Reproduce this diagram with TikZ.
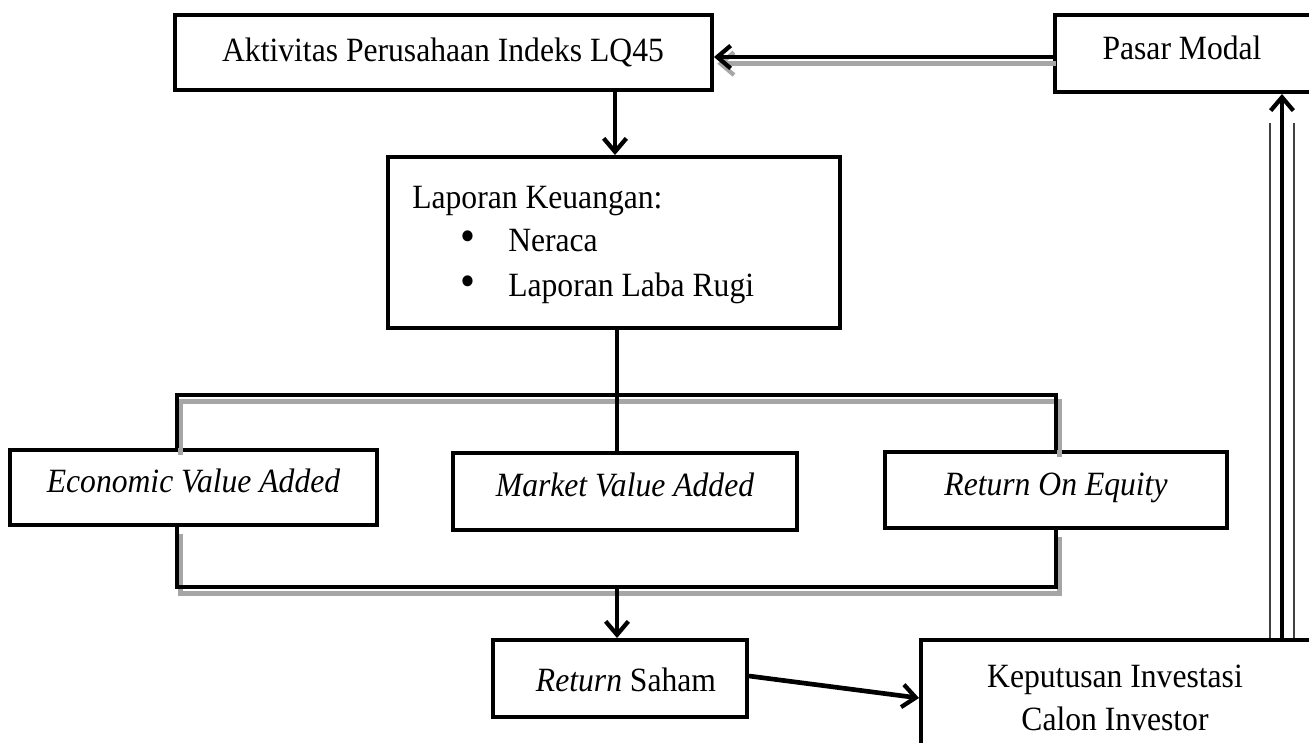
\documentclass[tikz,border=0pt]{standalone}
\usepackage{fontspec}
\setmainfont{Liberation Serif}[FakeStretch=0.93]
\usetikzlibrary{arrows.meta,fit}
\newcommand{\blt}{\raisebox{-0.5pt}{\scalebox{1.35}{\textbullet}}}
\begin{document}
\begin{tikzpicture}[x=0.75pt,y=-0.75pt,
  box/.style={draw=black, line width=3pt, inner sep=0pt},
  txt/.style={font=\fontsize{25.5pt}{30pt}\selectfont, inner sep=0pt},
  conn/.style={line width=3.5pt},
  shd/.style={preaction={draw=black!35, line width=3.5pt, transform canvas={xshift=2.5pt,yshift=-5pt}}},
  arr/.style={conn, -{Straight Barb[length=10pt,width=17pt,line width=3.2pt]}},
  dbl/.style={draw=black!75, line width=1.1pt, double=white, double distance=17pt}
]
\useasboundingbox (0,0) rectangle (1309,742);
\clip (0,0) rectangle (1309,742);

% boxes
\node[box, fit={(175,15) (712,90)}] (a) {};
\node[txt, anchor=base] (at) at (443,62) {Aktivitas Perusahaan Indeks LQ45};

\node[box, fit={(1055,15) (1340,92)}] (pm) {};
\node[txt, anchor=base] (pmt) at (1182,60) {Pasar Modal};

\node[box, fit={(388,157) (840,328)}] (lk) {};
\node[txt, anchor=base west] (lk1) at (412,208) {Laporan Keuangan:};
\node[txt, anchor=base west] (lk2) at (412,251) {\makebox[72pt][l]{\hspace*{36pt}\blt}Neraca};
\node[txt, anchor=base west] (lk3) at (412,296) {\makebox[72pt][l]{\hspace*{36pt}\blt}Laporan Laba Rugi};

\node[box, fit={(10,450) (377,525)}] (eva) {};
\node[txt, anchor=base] (evat) at (193.5,492) {\itshape Economic Value Added};

\node[box, fit={(453,453) (797,530)}] (mva) {};
\node[txt, anchor=base] (mvat) at (625,496) {\itshape Market Value Added};

\node[box, fit={(885,452) (1227,528)}] (roe) {};
\node[txt, anchor=base] (roet) at (1056,495) {\itshape Return On Equity};

\node[box, fit={(493,640) (747,717)}] (rs) {};
\node[txt, anchor=base] (rst) at (626,691) {\textit{Return} Saham};

\node[box, fit={(921,640) (1340,756)}] (kep) {};
\node[txt, anchor=base] (kt1) at (1115,687) {Keputusan Investasi};
\node[txt, anchor=base] (kt2) at (1115,730) {Calon Investor};

% coordinates of the distribution bars
\coordinate (t1) at (177,395);
\coordinate (t2) at (617,395);
\coordinate (t3) at (1056,395);
\coordinate (b1) at (177,587);
\coordinate (b2) at (617,587);
\coordinate (b3) at (1056,587);
\coordinate (dtop) at (1282,123);

% connectors
\draw[arr, shd] (pm.west |- 0,57) -- (a.east |- 0,57);
\draw[arr] (a.south -| 615,0) -- (lk.north -| 615,0);
\draw[conn] (lk.south -| t2) -- (t2);
\draw[conn, shd] (eva.north -| t1) -- (t1) -- (t3) -- (roe.north -| t3);
\draw[conn] (t2) -- (mva.north -| t2);
\draw[conn, shd] (eva.south -| b1) -- (b1) -- (b3) -- (roe.south -| b3);
\draw[arr] (b2) -- (rs.north -| b2);
\draw[arr] (rs.east |- 0,676) -- (kep.west);
\draw[dbl] (kep.north -| dtop) -- (dtop);
\draw[arr] (kep.north -| dtop) -- (pm.south -| dtop);
\end{tikzpicture}
\end{document}
